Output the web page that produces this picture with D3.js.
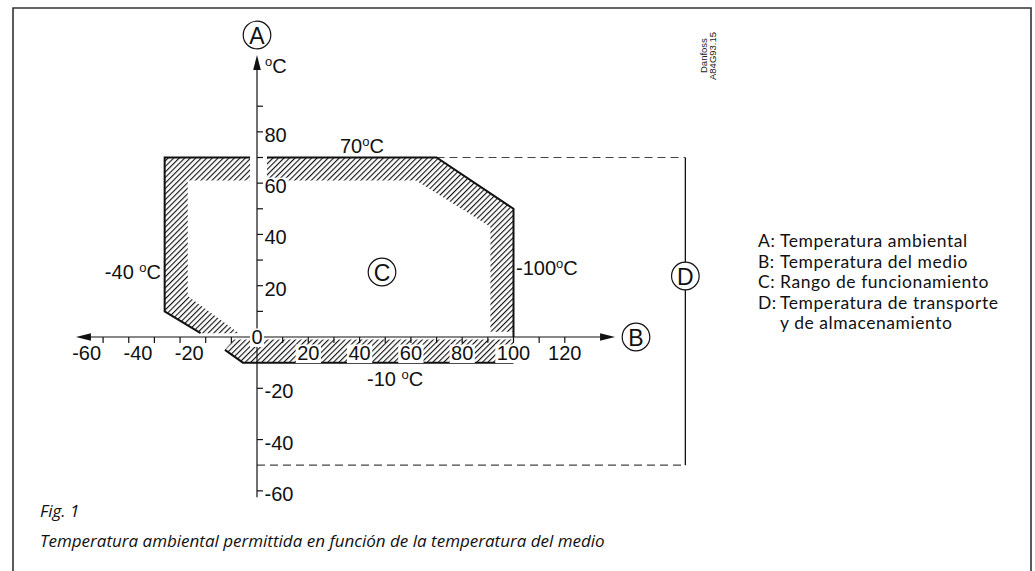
<!DOCTYPE html>
<html><head><meta charset="utf-8">
<script src="https://cdn.jsdelivr.net/npm/d3@7"></script>
<style>body{margin:0;background:#fff}svg{display:block}</style>
</head><body><svg id="c" width="1035" height="571"></svg>
<script>
// ---------------- data ----------------
const xTicks = [-60,-50,-40,-30,-20,-10,10,20,30,40,50,60,70,80,90,100,110,120];
const xLabels = [-60,-40,-20,20,40,60,80,100,120];
const yTicks = [90,80,70,60,50,40,30,20,10,-20,-40,-60];
const yLabels = [80,60,40,20,-20,-40,-60];
// operating range C (hatched band) : outer boundary + inner boundary
const operatingBand = [[-36,10],[-36,70],[70,70],[100,50],[100,2],[91,2],[91,43],[62,61],[-27,61],[-27,16],[-7,1.5],[-22,1.5]];
const operatingEdge = [[-22,1.5],[-36,10],[-36,70],[70,70],[100,50],[100,0]];
const lowBand = [[-12.5,-5],[-5.5,-10],[100,-10],[100,-1],[-9,-1]];
const lowEdge = [[-12.5,-5],[-5.5,-10],[100,-10]];
// storage / transport range D
const storageTop = 70, storageBottom = -50, storageLeft = 0, storageRight = 167, storageDashFrom = 70;
const limitNames = ["70","-40","-100","-10"];
const limitSpace = [false,true,false,true];
const legendKeys = ["A:","B:","C:","D:",""];
const legendTexts = ["Temperatura ambiental","Temperatura del medio","Rango de funcionamiento","Temperatura de transporte","y de almacenamiento"];
const captionTitle = "Fig. 1";
const captionText = "Temperatura ambiental permittida en función de la temperatura del medio";

// ---------------- layout ----------------
const limitPos = [{x:340,y:153,a:"start"},{x:161,y:279,a:"end"},{x:516,y:275,a:"start"},{x:367,y:386,a:"start"}];

// ---------------- drawing ----------------
const svg = d3.select("#c");
const x = d3.scaleLinear().domain([0,100]).range([257,513.5]);
const y = d3.scaleLinear().domain([0,70]).range([337,157.5]);
const F = "'Liberation Sans', Arial, sans-serif";
const FL = "Lato, 'Open Sans', sans-serif";
const FC = "'Open Sans', 'Noto Sans', sans-serif";
const FS = 20;

// frame
svg.append("path").attr("d","M13,571V8H1031V571").attr("fill","none").attr("stroke","#333").attr("stroke-width",1.6);

// hatch pattern
const defs = svg.append("defs");
const pat = defs.append("pattern").attr("id","hatch").attr("patternUnits","userSpaceOnUse")
  .attr("width",3.9).attr("height",3.9).attr("patternTransform","rotate(45)");
pat.append("line").attr("x1",0.6).attr("y1",0).attr("x2",0.6).attr("y2",3.9).attr("stroke","#000").attr("stroke-width",1.05);

const line = d3.line().x(d=>x(d[0])).y(d=>y(d[1]));

svg.append("path").attr("d", line(operatingBand)+"Z").attr("fill","url(#hatch)");
svg.append("path").attr("d", line(lowBand)+"Z").attr("fill","url(#hatch)");

// storage rectangle D
const dash = "8,5";
svg.append("line").attr("x1",x(storageDashFrom)).attr("x2",x(storageRight)).attr("y1",y(storageTop)).attr("y2",y(storageTop))
  .attr("stroke","#444").attr("stroke-width",1.2).attr("stroke-dasharray",dash);
svg.append("line").attr("x1",x(storageLeft)).attr("x2",x(storageRight)).attr("y1",y(storageBottom)).attr("y2",y(storageBottom))
  .attr("stroke","#444").attr("stroke-width",1.2).attr("stroke-dasharray",dash);
svg.append("line").attr("x1",x(storageRight)).attr("x2",x(storageRight)).attr("y1",y(storageTop)).attr("y2",y(storageBottom))
  .attr("stroke","#111").attr("stroke-width",1.3);

// operating edges
svg.append("path").attr("d", line(operatingEdge)).attr("fill","none").attr("stroke","#111").attr("stroke-width",2);
svg.append("path").attr("d", line(lowEdge)).attr("fill","none").attr("stroke","#111").attr("stroke-width",2);

// white gap around the y axis in the top band
svg.append("rect").attr("x",x(0)-7).attr("width",17).attr("y",y(70)-4).attr("height",y(61)-y(70)+5).attr("fill","#fff");

// axes
const ax = svg.append("g").attr("stroke","#111").attr("stroke-width",1.2);
ax.append("line").attr("x1",x(-69)).attr("x2",x(135)).attr("y1",y(0)).attr("y2",y(0));
ax.append("line").attr("x1",x(0)).attr("x2",x(0)).attr("y1",y(105)).attr("y2",y(-62.5));
svg.append("path").attr("d",`M${x(-70.6)},${y(0)}l15,-3.8v7.6Z`).attr("fill","#111");
svg.append("path").attr("d",`M${x(139.6)},${y(0)}l-15,-3.8v7.6Z`).attr("fill","#111");
svg.append("path").attr("d",`M${x(0)},${y(110)}l-3.8,15h7.6Z`).attr("fill","#111");

ax.selectAll(".xt").data(xTicks).join("line").attr("x1",d=>x(d)).attr("x2",d=>x(d)).attr("y1",y(0)).attr("y2",y(0)+6);
ax.selectAll(".yt").data(yTicks).join("line").attr("x1",x(0)).attr("x2",x(0)+6).attr("y1",d=>y(d)).attr("y2",d=>y(d));

function bgText(sel){
  sel.each(function(){
    const b=this.getBBox();
    d3.select(this.parentNode).insert("rect",()=>this).attr("x",b.x-1.5).attr("y",b.y+2.5).attr("width",b.width+3).attr("height",b.height-3.5).attr("fill","#fff");
  });
}

const lab = svg.append("g").attr("font-family",F).attr("font-size",FS).attr("fill","#111");
lab.selectAll(".xl").data(xLabels).join("text")
  .attr("x",d=>d<0?x(d)-2:x(d)).attr("y",360)
  .attr("text-anchor",d=>d<0?"end":"middle").text(d=>d).call(bgText);
lab.selectAll(".yl").data(yLabels).join("text")
  .attr("x",x(0)+7.5).attr("y",d=>y(d)+10).text(d=>d).call(bgText);
lab.append("text").attr("x",x(0)).attr("y",y(0)+7).attr("text-anchor","middle").text("0").call(bgText);

// °C unit on y axis
const u = lab.append("text").attr("x",x(0)+8).attr("y",73);
u.append("tspan").attr("font-size",13).attr("dy",-7).text("o");
u.append("tspan").attr("dy",7).text("C");

// limit labels
limitNames.forEach((n,i)=>{
  const p = limitPos[i];
  const t = lab.append("text").attr("x",p.x).attr("y",p.y).attr("text-anchor",p.a);
  t.append("tspan").text(n + (limitSpace[i]?" ":""));
  t.append("tspan").attr("font-size",13).attr("dy",-7).text("o");
  t.append("tspan").attr("dy",7).text("C");
});

// circled letters
const circ = [{l:"A",cx:x(0),cy:35},{l:"B",cx:636,cy:y(0)},{l:"C",cx:382,cy:272},{l:"D",cx:x(storageRight),cy:276}];
const cg = svg.append("g");
circ.forEach(c=>{
  cg.append("circle").attr("cx",c.cx).attr("cy",c.cy).attr("r",13.8).attr("fill","#fff").attr("stroke","#111").attr("stroke-width",1.2);
  cg.append("text").attr("x",c.cx).attr("y",c.cy+8.5).attr("text-anchor","middle").attr("font-family",F).attr("font-size",23).attr("fill","#111").text(c.l);
});

// Danfoss code
const dg = svg.append("g").attr("font-family",F).attr("font-size",9.5).attr("fill","#222");
dg.append("text").attr("transform","translate(707,73) rotate(-90)").text("Danfoss");
dg.append("text").attr("transform","translate(716,80) rotate(-90)").text("A84G93.15");

// legend
const lg = svg.append("g").attr("font-family",FL).attr("font-size",17.5).attr("letter-spacing",0.55).attr("fill","#111");
legendTexts.forEach((t,i)=>{
  const tx = lg.append("text").attr("y",247+i*20.5);
  tx.append("tspan").attr("x",758).text(legendKeys[i]);
  tx.append("tspan").attr("x",780).text(t);
});

// caption
const cap = svg.append("g").attr("font-family",FC).attr("font-style","italic").attr("font-size",17).attr("fill","#111");
cap.append("text").attr("x",40).attr("y",517).text(captionTitle);
cap.append("text").attr("x",40).attr("y",547).text(captionText);
</script></body></html>
